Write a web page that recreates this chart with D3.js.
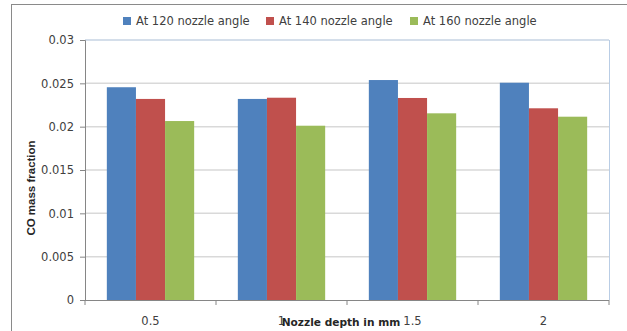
<!DOCTYPE html>
<html>
<head>
<meta charset="utf-8">
<script src="https://cdn.jsdelivr.net/npm/d3@7"></script>
<style>
  html, body { margin: 0; padding: 0; background: #fff; }
  svg { display: block; }
</style>
</head>
<body>
<script>
// Nozzle depth categories and CO mass fraction per nozzle angle
const depths = ["0.5", "1", "1.5", "2"];
const seriesNames = ["At 120 nozzle angle", "At 140 nozzle angle", "At 160 nozzle angle"];
const angle120 = [0.02455, 0.0232, 0.02538, 0.02507];
const angle140 = [0.0232, 0.02334, 0.02331, 0.02212];
const angle160 = [0.02065, 0.02011, 0.02154, 0.02115];
const yTicks = [0, 0.005, 0.01, 0.015, 0.02, 0.025, 0.03];
const colors = ["#4f81bd", "#c0504d", "#9bbb59"];

const W = 627, H = 331;
const plot = { left: 85, right: 609, top: 40, bottom: 300 };

const svg = d3.select("body").append("svg").attr("width", W).attr("height", H);

// chart frame
svg.append("rect")
  .attr("x", 11.5).attr("y", 4.5)
  .attr("width", W).attr("height", H)
  .attr("fill", "none").attr("stroke", "#8a8a8a").attr("stroke-width", 1);

const x0 = d3.scaleBand().domain(depths).range([plot.left, plot.right]).paddingInner(0).paddingOuter(0);
const barW = x0.bandwidth() / 4.5;
const x1 = d3.scaleBand().domain(seriesNames)
  .range([barW * 0.75, barW * 3.75]).padding(0);
const y = d3.scaleLinear().domain([0, 0.03]).range([plot.bottom, plot.top]);

// gridlines
svg.append("g").selectAll("line").data(yTicks.filter(d => d > 0)).join("line")
  .attr("x1", plot.left).attr("x2", plot.right)
  .attr("y1", d => y(d)).attr("y2", d => y(d))
  .attr("stroke", d => d === 0.03 ? "#c6d3e3" : "#d9d9d9")
  .attr("stroke-width", 1.5);

// plot area right border
svg.append("line")
  .attr("x1", plot.right + 0.5).attr("x2", plot.right + 0.5)
  .attr("y1", plot.top).attr("y2", plot.bottom)
  .attr("stroke", "#b9cde5").attr("stroke-width", 1);

// bars
const rows = depths.map((d, i) => ({ depth: d, values: [angle120[i], angle140[i], angle160[i]] }));
const groups = svg.append("g").selectAll("g").data(rows).join("g")
  .attr("transform", d => `translate(${x0(d.depth)},0)`);
groups.selectAll("rect")
  .data(d => d.values.map((v, k) => ({ name: seriesNames[k], value: v, k })))
  .join("rect")
  .attr("x", d => x1(d.name))
  .attr("width", x1.bandwidth())
  .attr("y", d => y(d.value))
  .attr("height", d => y(0) - y(d.value))
  .attr("fill", d => colors[d.k]);

// y axis
const yAxis = d3.axisLeft(y).tickValues(yTicks).tickSize(5).tickPadding(6)
  .tickFormat(d => d === 0 ? "0" : String(+d.toFixed(3)));
const gy = svg.append("g").attr("transform", `translate(${plot.left},0)`).call(yAxis);
gy.select(".domain").attr("stroke", "#868686");
gy.selectAll(".tick line").attr("stroke", "#868686");
gy.selectAll("text").attr("fill", "#404040")
  .style("font-family", "DejaVu Sans, Verdana, sans-serif").style("font-size", "11.5px");

// x axis: tick marks on category boundaries, labels centred on groups
const gx = svg.append("g").attr("transform", `translate(0,${plot.bottom})`);
gx.append("line").attr("x1", plot.left - 5).attr("x2", plot.right)
  .attr("y1", 0.5).attr("y2", 0.5).attr("stroke", "#868686");
const bounds = depths.map(d => x0(d)).concat([plot.right]);
gx.selectAll("line.tk").data(bounds).join("line").attr("class", "tk")
  .attr("x1", d => d).attr("x2", d => d).attr("y1", 0).attr("y2", 5)
  .attr("stroke", "#868686");
gx.selectAll("text").data(depths).join("text")
  .attr("x", d => x0(d) + x0.bandwidth() / 2)
  .attr("y", 25)
  .attr("text-anchor", "middle")
  .attr("fill", "#404040")
  .style("font-family", "DejaVu Sans, Verdana, sans-serif").style("font-size", "11.5px")
  .text(d => d);

// axis titles
svg.append("text")
  .attr("x", 341).attr("y", 326)
  .attr("text-anchor", "middle")
  .attr("fill", "#262626")
  .style("font-family", "DejaVu Sans, Verdana, sans-serif").style("font-size", "10.6px")
  .style("font-weight", "bold")
  .text("Nozzle depth in mm");

svg.append("text")
  .attr("transform", "translate(35,188) rotate(-90)")
  .attr("text-anchor", "middle")
  .attr("fill", "#262626")
  .style("font-family", "Liberation Sans, Arial, sans-serif").style("font-size", "11.5px")
  .style("font-weight", "bold")
  .text("CO mass fraction");

// legend
const legendX = [123, 266, 410];
const lg = svg.append("g").selectAll("g").data(seriesNames).join("g")
  .attr("transform", (d, i) => `translate(${legendX[i]},21)`);
lg.append("rect").attr("x", 0).attr("y", -4).attr("width", 8).attr("height", 8)
  .attr("fill", (d, i) => colors[i]);
lg.append("text").attr("x", 13).attr("y", 4)
  .attr("fill", "#404040")
  .style("font-family", "DejaVu Sans, Verdana, sans-serif").style("font-size", "11.5px")
  .text(d => d);
</script>
</body>
</html>
